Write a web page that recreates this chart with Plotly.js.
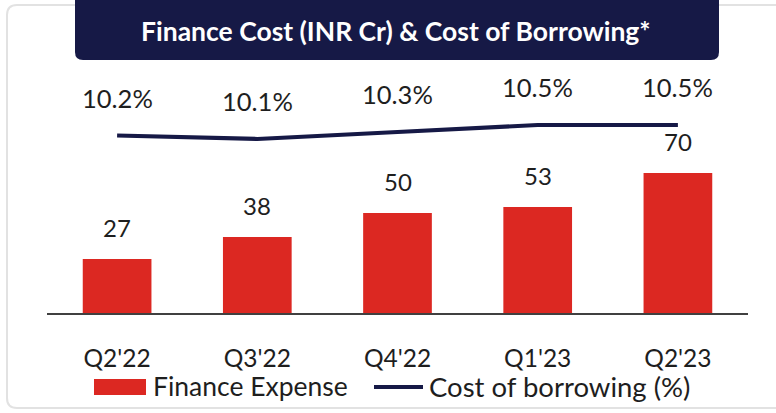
<!DOCTYPE html>
<html>
<head>
<meta charset="utf-8">
<script src="https://cdn.plot.ly/plotly-3.0.1.min.js"></script>
<style>html,body{margin:0;padding:0;background:#fff;}#chart{width:776px;height:413px;}</style>
</head>
<body>
<div id="chart"></div>
<script>
// ---- data ----
var categories = ["Q2'22", "Q3'22", "Q4'22", "Q1'23", "Q2'23"];
var financeExpense = [27, 38, 50, 53, 70];
var costOfBorrowing = [10.2, 10.1, 10.3, 10.5, 10.5];
var barName = "Finance Expense";
var lineName = "Cost of borrowing (%)";
var chartTitle = "Finance Cost (INR Cr) & Cost of Borrowing*";

var RED = "#DC2822", NAVY = "#161946", TXT = "#1e1e1e";
var FONT = "Lato, 'Open Sans', sans-serif";
var W = 776, H = 413, L = 47, R = 28, T = 60, B = 100;
var PW = W - L - R, PH = H - T - B;
function px(x) { return (x - L) / PW; }
function py(y) { return (H - B - y) / PH; }

var traces = [
  { type: "bar", x: categories, y: financeExpense, name: barName, marker: { color: RED },
    width: 0.49, showlegend: false, hoverinfo: "skip" },
  { type: "scatter", mode: "lines", x: categories, y: costOfBorrowing, yaxis: "y2", name: lineName,
    line: { color: NAVY, width: 4.2 }, showlegend: false, hoverinfo: "skip" }
];

var annotations = [];
categories.forEach(function (c, i) {
  annotations.push({ x: c, y: financeExpense[i], xref: "x", yref: "y", text: String(financeExpense[i]),
    showarrow: false, yanchor: "bottom", yshift: 15, font: { family: FONT, size: 24, color: TXT } });
  annotations.push({ x: c, y: costOfBorrowing[i], xref: "x", yref: "y2", text: costOfBorrowing[i].toFixed(1) + "%",
    showarrow: false, yanchor: "bottom", yshift: 21, font: { family: FONT, size: 25.5, color: TXT } });
});
// title
annotations.push({ x: px(396), y: py(31), xref: "paper", yref: "paper", text: "<b>" + chartTitle + "</b>",
  showarrow: false, xanchor: "center", yanchor: "middle", font: { family: FONT, size: 26.5, color: "#ffffff" } });
// legend texts
annotations.push({ x: px(151), y: py(386), xref: "paper", yref: "paper", text: barName, showarrow: false,
  xanchor: "left", yanchor: "middle", font: { family: FONT, size: 26.5, color: TXT } });
annotations.push({ x: px(427), y: py(386), xref: "paper", yref: "paper", text: lineName, showarrow: false,
  xanchor: "left", yanchor: "middle", font: { family: FONT, size: 27.5, color: TXT } });

function rrPath(x0, y0, x1, y1, r, top, bottom) {
  var rx = r / PW, ry = r / PH;
  var X0 = px(x0), X1 = px(x1), Y0 = py(y0), Y1 = py(y1);
  var p = "";
  if (top) {
    p += "M" + X0 + "," + (Y0 - ry) + " Q" + X0 + "," + Y0 + " " + (X0 + rx) + "," + Y0 + " L" + (X1 - rx) + "," + Y0 +
         " Q" + X1 + "," + Y0 + " " + X1 + "," + (Y0 - ry);
  } else {
    p += "M" + X0 + "," + Y0 + " L" + X1 + "," + Y0;
  }
  if (bottom) {
    p += " L" + X1 + "," + (Y1 + ry) + " Q" + X1 + "," + Y1 + " " + (X1 - rx) + "," + Y1 + " L" + (X0 + rx) + "," + Y1 +
         " Q" + X0 + "," + Y1 + " " + X0 + "," + (Y1 + ry) + " Z";
  } else {
    p += " L" + X1 + "," + Y1 + " L" + X0 + "," + Y1 + " Z";
  }
  return p;
}

var shapes = [
  { type: "path", xref: "paper", yref: "paper", path: rrPath(7, 5, 800, 408, 10, true, true),
    line: { color: "#e2e2e2", width: 2 }, fillcolor: "rgba(0,0,0,0)", layer: "below" },
  { type: "path", xref: "paper", yref: "paper", path: rrPath(75, -2, 719, 60, 8, false, true),
    line: { width: 0 }, fillcolor: NAVY, layer: "above" },
  // legend keys
  { type: "rect", xref: "paper", yref: "paper", x0: px(94), x1: px(146), y0: py(395), y1: py(379),
    line: { width: 0 }, fillcolor: RED },
  { type: "line", xref: "paper", yref: "paper", x0: px(374), x1: px(423), y0: py(387), y1: py(387),
    line: { color: NAVY, width: 4.2 } }
];

var layout = {
  width: W, height: H,
  margin: { l: L, r: R, t: T, b: B, pad: 0 },
  paper_bgcolor: "#ffffff", plot_bgcolor: "rgba(0,0,0,0)",
  font: { family: FONT, color: TXT },
  showlegend: false,
  xaxis: { type: "category", showgrid: false, zeroline: false, showline: true, linecolor: "#404040", linewidth: 1.5,
    ticks: "", tickfont: { family: FONT, size: 24.5, color: TXT }, ticklabelstandoff: 23, fixedrange: true },
  yaxis: { range: [0, PH / 2], visible: false, fixedrange: true },
  yaxis2: { range: [10.1 - 174 / 35, 10.1 - 174 / 35 + PH / 35], overlaying: "y", visible: false, fixedrange: true },
  annotations: annotations,
  shapes: shapes
};

Plotly.newPlot("chart", traces, layout, { displayModeBar: false, staticPlot: true });
</script>
</body>
</html>
